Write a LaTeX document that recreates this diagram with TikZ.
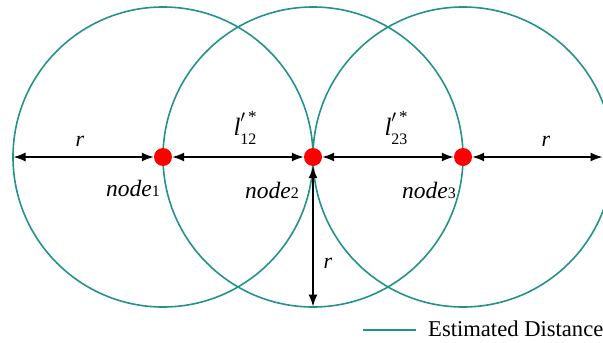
\documentclass[tikz,border=0pt]{standalone}
\usepackage{fontspec}
\setmainfont{Liberation Serif}
\usetikzlibrary{arrows.meta, positioning}
\definecolor{ringteal}{RGB}{36,145,140}

\newcommand{\ndlab}[1]{\textit{node}{\fontsize{16}{16}\selectfont #1}}
\newcommand{\dstlab}[1]{{\fontsize{25}{28}\selectfont\textit{l}}\makebox[0pt][l]{\raisebox{0.6em}{\fontsize{17}{17}\selectfont$\prime$\,*}}\raisebox{-0.4em}{\fontsize{16}{16}\selectfont #1}}

\begin{document}
\begin{tikzpicture}[x=1pt, y=-1pt,
    dot/.style={circle, fill=red, inner sep=0pt, minimum size=18pt},
    ring/.style={ringteal, line width=1.6pt},
    dist/.style={black, line width=1.5pt, {Latex[length=12pt,width=9pt]}-{Latex[length=12pt,width=9pt]}},
    lab/.style={font=\fontsize{22}{26}\selectfont, inner sep=1pt}]
            \clip (0,0) rectangle (603,343);
            \coordinate (c1) at (163,157);
            \coordinate (c2) at (313,157);
            \coordinate (c3) at (463,157);
            \draw[ring] (c1) circle (150pt);
            \draw[ring] (c2) circle (150pt);
            \draw[ring] (c3) circle (150pt);
            \node[dot] (n1) at (c1) {};
            \node[dot] (n2) at (c2) {};
            \node[dot] (n3) at (c3) {};
            \coordinate (edgel) at (13.5,157);
            \coordinate (edger) at (602.5,157);
            \coordinate (edgeb) at (313,306.5);
            \draw[dist] (edgel) -- (n1);
            \draw[dist] (n1) -- (n2);
            \draw[dist] (n2) -- (n3);
            \draw[dist] (n3) -- (edger);
            \draw[dist] (n2) -- (edgeb);
            \node[lab] (r1) at (80,141) {\textit{r}};
            \node[lab] (l12) at (245,128) {\dstlab{12}};
            \node[lab] (l23) at (396,128) {\dstlab{23}};
            \node[lab] (r3) at (546,141) {\textit{r}};
            \node[lab] (r2) at (328,263) {\textit{r}};
            \node[lab, font=\fontsize{23.5}{26}\selectfont, anchor=east] (t1) at (161,188) {\ndlab{1}};
            \node[lab, font=\fontsize{23.5}{26}\selectfont, anchor=east] (t2) at (300,190) {\ndlab{2}};
            \node[lab, font=\fontsize{23.5}{26}\selectfont, anchor=east] (t3) at (457,190) {\ndlab{3}};
            % legend
            \coordinate (lega) at (363,330);
            \coordinate (legb) at (416,330);
            \draw[ring] (lega) -- (legb);
            \node[lab, font=\fontsize{22.6}{26}\selectfont, anchor=west] (legt) at (427,329) {Estimated Distance};
        \end{tikzpicture}
\end{document}
